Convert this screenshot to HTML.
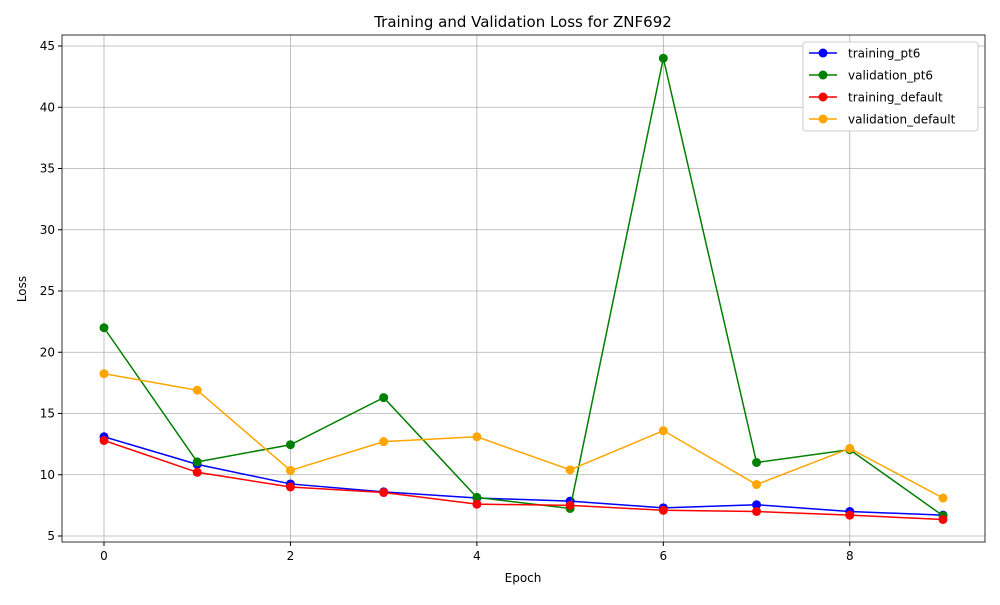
<!DOCTYPE html>
<html><head><meta charset="utf-8"><style>
body{margin:0;background:#fff;font-family:"Liberation Sans","DejaVu Sans",sans-serif;}
svg text{font-family:"DejaVu Sans","Liberation Sans",sans-serif;}
</style></head><body>
<svg id="chart" width="1000" height="600" xmlns="http://www.w3.org/2000/svg"></svg>
<script>
const epochs=[0,1,2,3,4,5,6,7,8,9];
const trainingPt6=[13.1,10.85,9.25,8.6,8.1,7.85,7.3,7.55,7.0,6.7];
const validationPt6=[22.0,11.05,12.45,16.3,8.15,7.25,44.0,11.0,12.05,6.65];
const trainingDefault=[12.8,10.2,9.0,8.55,7.6,7.5,7.1,7.0,6.7,6.35];
const validationDefault=[18.25,16.9,10.35,12.7,13.1,10.4,13.6,9.2,12.15,8.1];
const xTicks=[0,2,4,6,8];
const yTicks=[5,10,15,20,25,30,35,40,45];
const seriesNames=["training_pt6","validation_pt6","training_default","validation_default"];
const seriesData=[trainingPt6,validationPt6,trainingDefault,validationDefault];
const colors=["blue","green","red","orange"];

const svg=document.getElementById('chart');
const NS="http://www.w3.org/2000/svg";
const L=62,R=985,T=35,B=542;
const xs=v=>104+(v-0)*(943-104)/9;
const ys=v=>536-(v-5)*(536-46)/40;
function el(t,a,p){const e=document.createElementNS(NS,t);for(const k in a)e.setAttribute(k,a[k]);(p||svg).appendChild(e);return e;}

// grid
xTicks.forEach(t=>{const g=el('line',{x1:xs(t),x2:xs(t),y1:T,y2:B,stroke:'#b0b0b0','stroke-width':0.8});

});
yTicks.forEach(t=>{const g=el('line',{x1:L,x2:R,y1:ys(t),y2:ys(t),stroke:'#b0b0b0','stroke-width':0.8});

});
// frame
const fr=el('rect',{x:L,y:T,width:R-L,height:B-T,fill:'none',stroke:'#000','stroke-width':0.8});


// ticks
xTicks.forEach(t=>{el('line',{x1:xs(t),x2:xs(t),y1:B,y2:B+4,stroke:'#000'});
const tx=el('text',{x:xs(t),y:B+18,'text-anchor':'middle','font-size':12});tx.textContent=t;

});
yTicks.forEach(t=>{el('line',{x1:L-4,x2:L,y1:ys(t),y2:ys(t),stroke:'#000'});
const tx=el('text',{x:L-7,y:ys(t)+4,'text-anchor':'end','font-size':12});tx.textContent=t;

});
// titles
let t=el('text',{x:523,y:27,'text-anchor':'middle','font-size':15});t.textContent='Training and Validation Loss for ZNF692';


t=el('text',{x:523,y:582,'text-anchor':'middle','font-size':12});t.textContent='Epoch';


t=el('text',{x:26,y:289,'text-anchor':'middle','font-size':12,transform:'rotate(-90 26 289)'});t.textContent='Loss';


// series
seriesData.forEach((d,i)=>{
 const pl=el('polyline',{points:d.map((v,j)=>xs(epochs[j])+','+ys(v)).join(' '),fill:'none',stroke:colors[i],'stroke-width':1.5});
 
 
 d.forEach((v,j)=>{const c=el('circle',{cx:xs(epochs[j]),cy:ys(v),r:4.5,fill:colors[i]});
 
 });
});
// legend
const lg=el('rect',{x:803,y:42,width:175,height:89,fill:'#fff',stroke:'#ccc',rx:3});


seriesNames.forEach((n,i)=>{const y=53+i*22;
 el('line',{x1:809,x2:837,y1:y,y2:y,stroke:colors[i],'stroke-width':1.5});
 el('circle',{cx:823,cy:y,r:4.5,fill:colors[i]});
 const tx=el('text',{x:848,y:y+4.5,'font-size':12});tx.textContent=n;
 
 });
</script>
</body></html>
